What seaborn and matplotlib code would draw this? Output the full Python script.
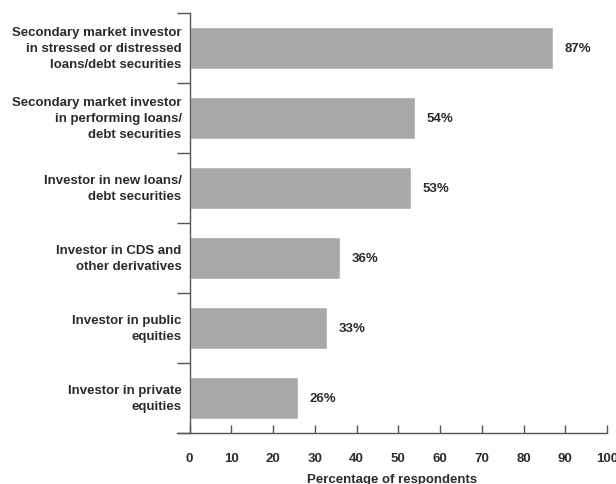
import matplotlib
matplotlib.use("Agg")
import matplotlib.pyplot as plt
import seaborn as sns
import pandas as pd
from matplotlib.ticker import FixedLocator

categories = [
    "Secondary market investor\nin stressed or distressed\nloans/debt securities",
    "Secondary market investor\nin performing loans/\ndebt securities",
    "Investor in new loans/\ndebt securities",
    "Investor in CDS and\nother derivatives",
    "Investor in public\nequities",
    "Investor in private\nequities",
]
percentages = [87, 54, 53, 36, 33, 26]
x_ticks = [0, 10, 20, 30, 40, 50, 60, 70, 80, 90, 100]

df = pd.DataFrame({"category": categories, "pct": percentages})

sns.set_style("white")
plt.rcParams["font.family"] = ["Liberation Sans", "DejaVu Sans"]
text_color = "#2b2b2b"
bar_color = "#a7a8aa"
axis_color = "#555555"
fs = 9.5

fig = plt.figure(figsize=(6.16, 4.85), dpi=100)
ax = fig.add_axes([177 / 616, 51 / 485, 430 / 616, 420 / 485])

sns.barplot(data=df, x="pct", y="category", color=bar_color, width=0.61,
            saturation=1, ax=ax)

# value labels at the end of each bar
for i, v in enumerate(percentages):
    ax.text(v + 2.8, i, f"{v}%", va="center", ha="left", fontsize=fs,
            fontweight="bold", color=text_color)

# category labels drawn as text so they keep the bold weight
for i, c in enumerate(categories):
    ax.text(-1.9, i, c, va="center", ha="right", fontsize=fs,
            fontweight="bold", color=text_color, linespacing=1.48)

ax.set_xlim(-3, 100)
ax.set_ylim(5.5, -0.5)
ax.set_xticks(x_ticks)
ax.set_xticklabels([str(t) for t in x_ticks])
for lbl in ax.get_xticklabels():
    lbl.set_fontweight("bold")
    lbl.set_fontsize(fs)
    lbl.set_color(text_color)
ax.set_yticks([])
ax.yaxis.set_minor_locator(FixedLocator([i - 0.5 for i in range(len(categories) + 1)]))

ax.set_xlabel("Percentage of respondents", fontsize=fs, fontweight="bold",
              color=text_color, labelpad=7)
ax.set_ylabel("")

for s in ["top", "right"]:
    ax.spines[s].set_visible(False)
ax.spines["left"].set_position(("data", 0))
for s in ["left", "bottom"]:
    ax.spines[s].set_color(axis_color)
    ax.spines[s].set_linewidth(1.0)

ax.tick_params(axis="y", which="minor", left=True, length=9.4, width=1.0,
               color=axis_color, direction="out")
ax.tick_params(axis="x", which="major", bottom=True, length=5.5, width=1.0,
               color=axis_color, direction="in", pad=13.5)

fig.savefig("out.png", dpi=100)
